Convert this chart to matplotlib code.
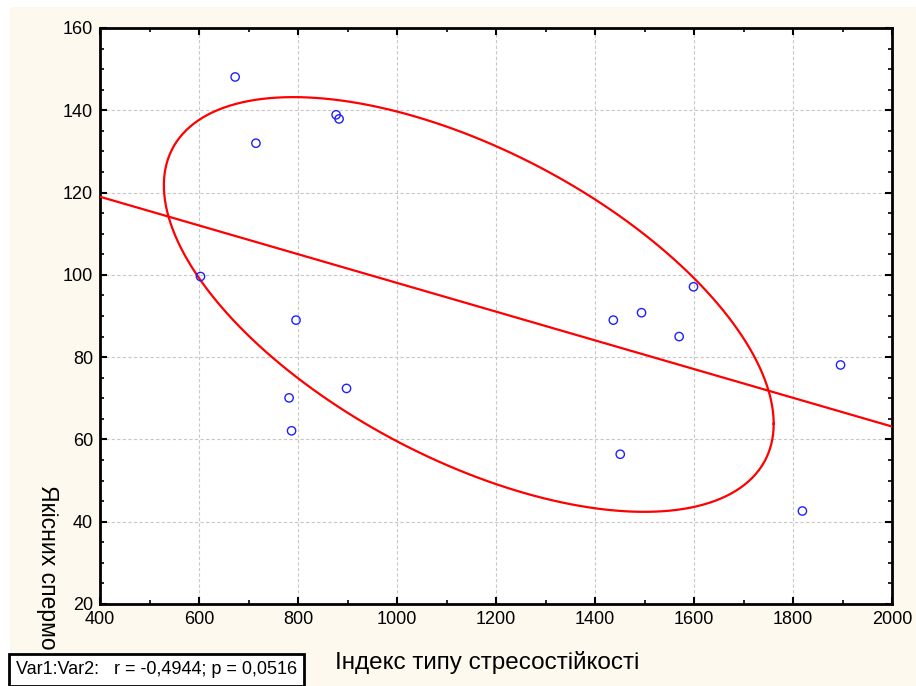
#!/usr/bin/env python3

import numpy as np
import matplotlib
matplotlib.use("Agg")
import matplotlib.pyplot as plt
from matplotlib.patches import Rectangle
from matplotlib.ticker import MultipleLocator

# ======================================================
# DATA
# ======================================================

stress_index = [673, 715, 877, 883, 603, 796, 782, 787, 898,
                1437, 1494, 1570, 1599, 1451, 1819, 1896]
sperm_quality = [148.1, 132.0, 138.9, 137.9, 99.6, 89.0, 70.1, 62.1, 72.4,
                 89.0, 90.8, 85.0, 97.1, 56.4, 42.6, 78.1]

# ellipse: centre, half-extents, cos of phase shift
ellipse_center = [1145, 92.8]
ellipse_half = [616, 50.4]
ellipse_cos_shift = -0.575

x_ticks = [400, 600, 800, 1000, 1200, 1400, 1600, 1800, 2000]
y_ticks = [20, 40, 60, 80, 100, 120, 140, 160]

x_label = "Індекс типу стресостійкості"
y_label = "Якісних спермо"
stats_text = "Var1:Var2:   r = -0,4944; p = 0,0516"

# ======================================================
# STYLE
# ======================================================

plt.rcParams["font.family"] = ["Liberation Sans", "DejaVu Sans"]

W, H = 916, 686
fig = plt.figure(figsize=(W / 100, H / 100), dpi=100, facecolor="white")

# cream background, with white strip top and left
fig.patches.append(Rectangle((10 / W, 0), 1, (H - 7) / H, transform=fig.transFigure,
                             facecolor="#fdf9ee", edgecolor="none", zorder=-10))

ax = fig.add_axes([100 / W, (H - 604) / H, (892 - 100) / W, (604 - 28) / H])
ax.set_facecolor("white")

# ======================================================
# PLOT
# ======================================================

x = np.array(stress_index)
y = np.array(sperm_quality)

ax.scatter(x, y, s=36, facecolors="none", edgecolors="#2020ff",
           linewidths=1.0, zorder=4, clip_on=False)

slope, intercept = np.polyfit(x, y, 1)
xl = np.array([x_ticks[0], x_ticks[-1]])
ax.plot(xl, slope * xl + intercept, color="red", lw=1.6, zorder=3)

t = np.linspace(0, 2 * np.pi, 400)
shift = np.arccos(ellipse_cos_shift)
ex = ellipse_center[0] + ellipse_half[0] * np.cos(t)
ey = ellipse_center[1] + ellipse_half[1] * np.cos(t + shift)
ax.plot(ex, ey, color="red", lw=1.6, zorder=3)

ax.set_xlim(x_ticks[0], x_ticks[-1])
ax.set_ylim(y_ticks[0], y_ticks[-1])
ax.set_xticks(x_ticks)
ax.set_yticks(y_ticks)
ax.xaxis.set_minor_locator(MultipleLocator(100))
ax.yaxis.set_minor_locator(MultipleLocator(5))

ax.grid(True, which="major", color="#c8c8c8", linestyle=(0, (3, 2)), lw=0.8)
ax.set_axisbelow(True)

ax.tick_params(which="both", direction="in", top=True, right=True,
               labelsize=13, colors="black")
ax.tick_params(which="major", length=5, width=1.5, pad=5)
ax.tick_params(which="minor", length=3, width=1.2)

for s in ax.spines.values():
    s.set_linewidth(2)
    s.set_color("black")

fig.text(487 / W, 1 - 662 / H, x_label, ha="center", va="center", fontsize=17.5)
fig.text(47 / W, 1 - 485 / H, y_label, ha="center", va="top",
         rotation=-90, fontsize=16.5)

fig.text(16 / W, 1 - 670 / H, stats_text, ha="left", va="center", fontsize=13,
         zorder=10,
         bbox=dict(boxstyle="square,pad=0.4", facecolor="white",
                   edgecolor="black", linewidth=2))

fig.savefig("out.png", dpi=100, facecolor=fig.get_facecolor())
plt.close(fig)
